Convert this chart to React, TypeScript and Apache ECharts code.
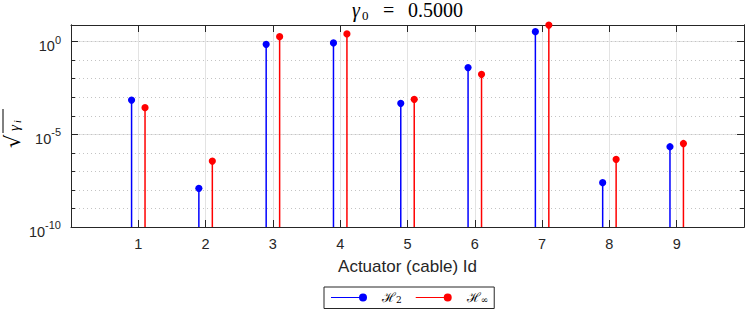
import React, { useEffect, useRef } from "react";
import * as echarts from "echarts";

const actuators = [1, 2, 3, 4, 5, 6, 7, 8, 9];
const h2Values = [7.1e-4, 1.23e-8, 0.72, 0.85, 4.7e-4, 0.04, 3.47, 2.45e-8, 2.14e-6];
const hinfValues = [2.75e-4, 3.6e-7, 1.86, 2.63, 7.8e-4, 0.0174, 7.9, 4.5e-7, 3.2e-6];
const yMinExp = -10;
const yMaxExp = 0.9;
const xTickLabels = ["", "1", "2", "3", "4", "5", "6", "7", "8", "9", ""];
const titleValue = "0.5000";

const AXIS = "#262626";
const GRID = "#e3e3e3";
const MINOR = "#c4c4c4";
const BLUE = "#0000ff";
const RED = "#ff0000";
const OFFSET = 0.1;

function stemSeries(name: string, values: number[], color: string, off: number) {
  return {
    name,
    type: "custom",
    xAxisIndex: 0,
    yAxisIndex: 0,
    itemStyle: { color },
    data: actuators.map((a, i) => [a, Math.log10(values[i])]),
    renderItem: (_p: any, api: any) => {
      const x = api.value(0) + off;
      const top = api.coord([x, api.value(1)]);
      const base = api.coord([x, yMinExp]);
      return {
        type: "group",
        children: [
          {
            type: "line",
            shape: { x1: top[0], y1: base[1], x2: top[0], y2: top[1] },
            style: { stroke: color, lineWidth: 1.5 },
          },
          {
            type: "circle",
            shape: { cx: top[0], cy: top[1], r: 3.6 },
            style: { fill: color },
          },
        ],
      };
    },
  };
}

const SERIF = "Liberation Serif";

function txt(text: string, x: number, y: number, size: number, italic = false, family = SERIF) {
  return {
    type: "text",
    x,
    y,
    style: {
      text,
      fontSize: size,
      fontFamily: family,
      fontStyle: italic ? "italic" : "normal",
      fill: "#000",
      verticalAlign: "middle",
    },
  };
}

export default function App() {
  const ref = useRef<HTMLDivElement>(null);
  useEffect(() => {
    if (!ref.current) return;
    const chart = echarts.init(ref.current, null, { renderer: "svg" });
    const iconPath =
      "path://M0 3.4 L32 3.4 L32 4.6 L0 4.6 Z M36 4 A4 4 0 1 1 28 4 A4 4 0 1 1 36 4 Z";
    const yCommon = {
      type: "value",
      min: yMinExp,
      max: yMaxExp,
      axisLine: { show: true, lineStyle: { color: AXIS, width: 1 } },
    };
    chart.setOption({
      animation: false,
      grid: { left: 71, right: 1, top: 25, bottom: 85, containLabel: false },
      legend: {
        left: 324,
        top: 287,
        orient: "horizontal",
        data: [
          { name: "H2", icon: iconPath },
          { name: "Hinf", icon: iconPath },
        ],
        itemWidth: 36,
        itemHeight: 8,
        itemGap: 14,
        padding: [4, 6, 4, 7],
        borderColor: AXIS,
        borderWidth: 1,
        borderRadius: 0,
        backgroundColor: "#fff",
        formatter: (name: string) => (name === "H2" ? "{h|ℋ}{s|2}" : "{h|ℋ}{s|∞}"),
        textStyle: {
          padding: [0, 0, 0, 10],
          rich: {
            h: { fontFamily: "DejaVu Serif", fontSize: 13, color: "#000" },
            s: { fontFamily: "DejaVu Serif", fontSize: 9, color: "#000", padding: [5, 0, 0, 0] },
          },
        },
      },
      xAxis: [
        {
          type: "value",
          min: 0,
          max: 10,
          interval: 1,
          position: "bottom",
          name: "Actuator (cable) Id",
          nameLocation: "middle",
          nameGap: 31,
          nameTextStyle: { fontFamily: "Liberation Sans", fontSize: 17, color: AXIS },
          axisLine: { show: true, onZero: false, lineStyle: { color: AXIS, width: 1 } },
          axisTick: { show: true, inside: true, length: 7, lineStyle: { color: AXIS } },
          axisLabel: {
            margin: 9,
            fontFamily: "Liberation Sans",
            fontSize: 14.5,
            color: AXIS,
            formatter: (v: number) => xTickLabels[Math.round(v)] ?? "",
          },
          splitLine: { show: true, lineStyle: { color: GRID, width: 1 } },
        },
        {
          type: "value",
          min: 0,
          max: 10,
          interval: 1,
          position: "top",
          axisLine: { show: true, onZero: false, lineStyle: { color: AXIS, width: 1 } },
          axisTick: { show: true, inside: true, length: 7, lineStyle: { color: AXIS } },
          axisLabel: { show: false },
          splitLine: { show: false },
        },
      ],
      yAxis: [
        {
          ...yCommon,
          position: "left",
          interval: 5,
          axisTick: { show: true, inside: true, length: 7, lineStyle: { color: AXIS } },
          axisLabel: {
            margin: 10,
            color: AXIS,
            formatter: (v: number) =>
              Math.abs(v % 5) < 1e-9 ? `{b|10}{e|${v}}` : "",
            rich: {
              b: { fontFamily: "Liberation Sans", fontSize: 14.5, color: AXIS, padding: [9, 0, 0, 0] },
              e: { fontFamily: "Liberation Sans", fontSize: 11, color: AXIS, padding: [0, 0, 4, 0] },
            },
          },
          splitLine: { show: true, lineStyle: { color: GRID, width: 1 } },
        },
        {
          ...yCommon,
          position: "left",
          interval: 1,
          axisTick: { show: true, inside: true, length: 4, lineStyle: { color: AXIS } },
          axisLabel: { show: false },
          splitLine: { show: true, lineStyle: { color: MINOR, width: 1, type: [1, 3] } },
        },
        {
          ...yCommon,
          position: "right",
          interval: 5,
          axisTick: { show: true, inside: true, length: 7, lineStyle: { color: AXIS } },
          axisLabel: { show: false },
          splitLine: { show: false },
        },
        {
          ...yCommon,
          position: "right",
          interval: 1,
          axisTick: { show: true, inside: true, length: 4, lineStyle: { color: AXIS } },
          axisLabel: { show: false },
          splitLine: { show: false },
        },
      ],
      graphic: [
        {
          type: "group",
          x: 0,
          y: 0,
          children: [
            txt("γ", 352, 10, 20, true),
            txt("0", 362, 15, 13),
            txt("=", 383, 10, 20),
            txt(titleValue, 408, 10, 20),
          ],
        },
        {
          type: "group",
          x: 14,
          y: 127,
          rotation: Math.PI / 2,
          children: [
            {
              type: "text",
              x: -21,
              y: -12,
              style: { text: "√", fontSize: 21, fontFamily: "DejaVu Serif", fill: "#000" },
            },
            {
              type: "line",
              shape: { x1: -6, y1: -11, x2: 18, y2: -11 },
              style: { stroke: "#000", lineWidth: 1 },
            },
            {
              type: "text",
              x: -4,
              y: -8,
              style: { text: "γ", fontSize: 15, fontFamily: SERIF, fontStyle: "italic", fill: "#000" },
            },
            {
              type: "text",
              x: 4,
              y: -2,
              style: { text: "i", fontSize: 10, fontFamily: SERIF, fontStyle: "italic", fill: "#000" },
            },
          ],
        },
      ],
      series: [stemSeries("H2", h2Values, BLUE, -OFFSET), stemSeries("Hinf", hinfValues, RED, OFFSET)],
    });
    return () => chart.dispose();
  }, []);
  return (
    <div
      ref={ref}
      style={{ position: "absolute", left: 0, top: 0, width: 747, height: 312 }}
    />
  );
}
